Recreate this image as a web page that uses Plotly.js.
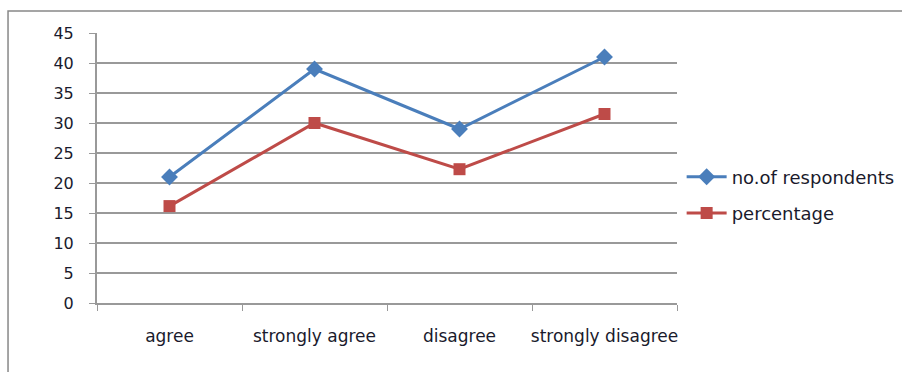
<!DOCTYPE html>
<html>
<head>
<meta charset="utf-8">
<script src="https://cdn.plot.ly/plotly-3.0.1.min.js"></script>
<style>html,body{margin:0;padding:0;background:#fff}#chart{width:902px;height:372px}</style>
</head>
<body>
<div id="chart"></div>
<script>
const categories = ["agree", "strongly agree", "disagree", "strongly disagree"];
const respondents = [21, 39, 29, 41];
const percentage = [16.15, 30, 22.3, 31.5];
const yTicks = [0, 5, 10, 15, 20, 25, 30, 35, 40, 45];

const fam = "DejaVu Sans, sans-serif";
const txt = "#1a1a2c";

const traces = [
  {x: categories, y: respondents, name: "no.of respondents", type: "scatter", mode: "lines+markers", legendgroup: "a",
   line: {color: "#4a7ebb", width: 3}, marker: {symbol: "diamond", size: 13, color: "#4a7ebb"}},
  {x: categories, y: percentage, name: "percentage", type: "scatter", mode: "lines+markers", legendgroup: "b",
   line: {color: "#be4b48", width: 3}, marker: {symbol: "square", size: 12, color: "#be4b48"}}
];

const layout = {
  width: 902, height: 372,
  margin: {l: 97, r: 225, t: 33, b: 69, autoexpand: false},
  paper_bgcolor: "#fff", plot_bgcolor: "#fff",
  font: {family: fam, size: 14, color: txt},
  showlegend: true,
  legend: {x: 1.008, xanchor: "left", y: 0.40, yanchor: "middle",
           font: {family: fam, size: 18, color: txt},
           tracegroupgap: 10, itemwidth: 40, bgcolor: "rgba(0,0,0,0)"},
  xaxis: {type: "category", range: [-0.5, 3.5], tickson: "boundaries", ticks: "outside", ticklen: 6, tickcolor: "#999",
          showline: true, linecolor: "#999", linewidth: 2, showgrid: false, zeroline: false, tickangle: 0,
          ticklabelstandoff: 17, tickfont: {family: fam, size: 17, color: txt}},
  yaxis: {range: [0, 45], tickvals: yTicks, ticks: "outside", ticklen: 6, tickcolor: "#999",
          showline: true, linecolor: "#999", linewidth: 2, showgrid: true, gridcolor: "#999", gridwidth: 1.5,
          zeroline: false, ticklabelstandoff: 12, tickfont: {family: fam, size: 16, color: txt}},
  shapes: [{type: "rect", xref: "paper", yref: "paper", x0: -0.1534, x1: 1.4, y0: -0.3, y1: 1.0815,
            line: {color: "#888", width: 1.5}, fillcolor: "rgba(0,0,0,0)", layer: "below"}]
};

Plotly.newPlot("chart", traces, layout, {displayModeBar: false, staticPlot: true});
</script>
</body>
</html>
